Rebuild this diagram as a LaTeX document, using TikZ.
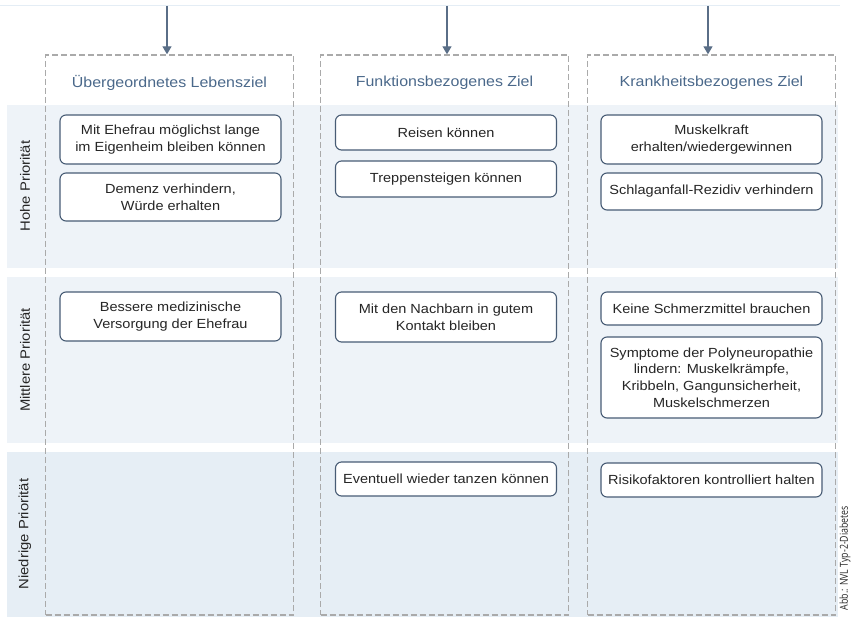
\documentclass[tikz,border=0pt]{standalone}
\usepackage{fontspec}
\setmainfont{Liberation Sans}[FakeStretch=1.1]
\newfontfamily\creditfont{Open Sans}[FakeStretch=0.8]
\usetikzlibrary{arrows.meta}
\definecolor{bandlight}{RGB}{238,243,248}
\definecolor{banddark}{RGB}{230,238,245}
\definecolor{goalline}{RGB}{72,92,117}
\definecolor{headcolor}{RGB}{74,104,138}
\definecolor{arrowcolor}{RGB}{90,110,135}
\definecolor{dashgray}{RGB}{170,170,170}
\definecolor{toprule}{RGB}{228,237,245}

\begin{document}
\begin{tikzpicture}
[
    x=1pt,y=-1pt,
    column/.style={rectangle,draw=dashgray,line width=1.4pt,dash pattern=on 6pt off 3pt,minimum width=248pt,minimum height=560pt},
    header/.style={text=headcolor,font=\fontsize{14.5}{17}\selectfont},
    goal/.style={rectangle,rounded corners=6pt,draw=goalline,line width=1.1pt,fill=white,minimum width=221pt,align=center,text=black!85,font=\fontsize{13.2}{16.7}\selectfont},
    priority/.style={rotate=90,text=black!85,font=\fontsize{13.5}{16}\selectfont},
    goalarrow/.style={draw=arrowcolor,line width=1.4pt,-{Triangle[length=8pt,width=9pt]}}
]
\useasboundingbox (0,0) rectangle (854,617);

% Prioritaetsbaender
\fill[bandlight] (7,105) rectangle (838,268);
\fill[bandlight] (7,277) rectangle (838,443);
\fill[banddark] (7,452) rectangle (838,617);
\draw[toprule,line width=1pt] (0,6) -- (840,6);

\node (hohe) at (25,186) [priority] {Hohe Priorität};
\node (mittlere) at (25,360) [priority] {Mittlere Priorität};
\node (niedrige) at (25,534) [priority] {Niedrige Priorität};

% Spalten
\node (col1) at (169.5,335) [column] {};
\node (col2) at (444.5,335) [column] {};
\node (col3) at (711.5,335) [column] {};

\coordinate (in1) at (167,6);
\coordinate (in2) at (447,6);
\coordinate (in3) at (708,6);
\draw[goalarrow] (in1) -- (in1 |- col1.north);
\draw[goalarrow] (in2) -- (in2 |- col2.north);
\draw[goalarrow] (in3) -- (in3 |- col3.north);

\node (head1) at (169.5,83) [header] {Übergeordnetes Lebensziel};
\node (head2) at (444.5,83) [header] {Funktionsbezogenes Ziel};
\node (head3) at (711.5,83) [header] {Krankheitsbezogenes Ziel};

% Hohe Prioritaet
\node (leben1) at (170.5,139.5) [goal,minimum height=49pt] {Mit Ehefrau möglichst lange\\im Eigenheim bleiben können};
\node (leben2) at (170.5,197) [goal,minimum height=48pt] {Demenz verhindern,\\Würde erhalten};
\node (funk1) at (446,132.5) [goal,minimum height=35pt] {Reisen können};
\node (funk2) at (446,179) [goal,minimum height=36pt] {Treppensteigen können};
\node (krank1) at (711.5,139.5) [goal,minimum height=49pt] {Muskelkraft\\erhalten/wiedergewinnen};
\node (krank2) at (711.5,191.5) [goal,minimum height=37pt] {Schlaganfall-Rezidiv verhindern};

% Mittlere Prioritaet
\node (leben3) at (170.5,316.5) [goal,minimum height=49pt] {Bessere medizinische\\Versorgung der Ehefrau};
\node (funk3) at (446,317) [goal,minimum height=50pt] {Mit den Nachbarn in gutem\\Kontakt bleiben};
\node (krank3) at (711.5,308.5) [goal,minimum height=33pt] {Keine Schmerzmittel brauchen};
\node (krank4) at (711.5,377.5) [goal,minimum height=81pt] {Symptome der Polyneuropathie\\lindern: Muskelkrämpfe,\\Kribbeln, Gangunsicherheit,\\Muskelschmerzen};

% Niedrige Prioritaet
\node (funk4) at (446,479) [goal,minimum height=34pt] {Eventuell wieder tanzen können};
\node (krank5) at (711.5,480) [goal,minimum height=34pt] {Risikofaktoren kontrolliert halten};

\node (quelle) at (845,558) [rotate=90,inner sep=1pt,text=black!85,font=\creditfont\fontsize{11}{12}\selectfont] {Abb.: NVL Typ-2-Diabetes};

\end{tikzpicture}
\end{document}
